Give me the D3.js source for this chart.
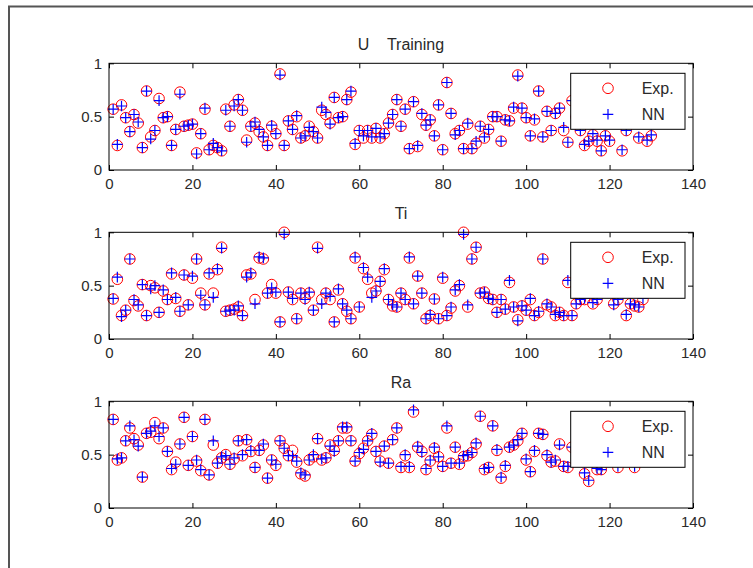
<!DOCTYPE html>
<html lang="en">
<head>
	<meta charset="UTF-8">
	<title>U Ti Ra training</title>
	<style>
		* {
			margin: 0;
			padding: 0;
		}
		body {
			background: #fff;
		}
		.svg {
			display: block;
			font-family: "Liberation Sans", Arial, sans-serif;
		}
		.tick text {
			font-size: 15px;
			fill: #2a2a2a;
		}
	</style>
</head>
<body>
	<script src="https://cdn.jsdelivr.net/npm/d3@7"></script>
	<script>
		// sample number runs 1..n
		var titles = ['U    Training', 'Ti', 'Ra'];
		var legendLabels = ['Exp.', 'NN'];
		var xTicks = [0, 20, 40, 60, 80, 100, 120, 140];
		var yTicks = [0, 0.5, 1];

		var uExp = [.57, .23, .61, .49, .36, .52, .44, .21, .74, .31,
			.37, .67, .49, .50, .23, .38, .73, .41, .42, .43,
			.16, .34, .57, .19, .23, .21, .18, .57, .41, .61,
			.66, .56, .28, .41, .44, .36, .31, .23, .41, .34,
			.90, .23, .46, .38, .50, .30, .32, .41, .36, .30,
			.56, .52, .44, .68, .49, .50, .66, .73, .24, .37,
			.30, .37, .30, .39, .30, .34, .44, .52, .66, .41,
			.57, .20, .64, .22, .52, .42, .47, .32, .61, .19,
			.82, .53, .34, .37, .20, .43, .20, .25, .41, .30,
			.38, .50, .50, .27, .47, .46, .58, .89, .58, .49,
			.32, .47, .74, .31, .55, .37, .53, .58, .37, .26,
			.65, .50, .37, .23, .27, .33, .27, .18, .32, .27,
			.45, .60, .18, .37, .55, .70, .30, .60, .27, .32];
		var uNN = [.57, .24, .60, .49, .36, .52, .45, .21, .74, .29,
			.37, .65, .49, .50, .23, .38, .71, .41, .42, .43,
			.15, .34, .58, .19, .25, .21, .18, .56, .41, .60,
			.66, .56, .26, .41, .45, .38, .31, .23, .42, .34,
			.89, .23, .46, .38, .51, .30, .32, .40, .36, .30,
			.59, .54, .43, .68, .49, .50, .66, .74, .25, .37,
			.32, .37, .31, .39, .31, .34, .44, .52, .66, .41,
			.57, .20, .64, .23, .53, .42, .47, .32, .61, .19,
			.82, .53, .33, .37, .20, .44, .20, .27, .41, .31,
			.38, .50, .50, .27, .47, .46, .59, .88, .58, .49,
			.32, .48, .74, .31, .55, .37, .53, .58, .40, .26,
			.65, .50, .37, .24, .27, .34, .28, .18, .32, .28,
			.45, .60, .19, .37, .55, .70, .31, .60, .28, .33];

		var tiExp = [.375, .56, .22, .27, .75, .36, .31, .51, .22, .50,
			.48, .25, .45, .37, .61, .38, .26, .60, .32, .57,
			.75, .43, .32, .61, .43, .65, .86, .26, .27, .28,
			.30, .22, .60, .61, .37, .76, .75, .43, .51, .43,
			.16, 1.0, .44, .37, .19, .43, .38, .43, .27, .86,
			.37, .43, .37, .16, .46, .33, .26, .19, .76, .30,
			.66, .56, .43, .45, .54, .65, .37, .31, .30, .43,
			.37, .76, .33, .59, .43, .19, .22, .375, .19, .57,
			.22, .29, .45, .50, 1.0, .30, .75, .86, .43, .44,
			.38, .37, .25, .37, .28, .53, .30, .18, .31, .27,
			.37, .22, .25, .75, .32, .30, .22, .25, .22, .53,
			.22, .33, .37, .37, .55, .33, .37, .60, .50, .70,
			.33, .37, .45, .22, .33, .31, .30, .37];
		var tiNN = [.38, .58, .21, .27, .75, .37, .32, .51, .22, .47,
			.50, .25, .46, .37, .62, .39, .26, .60, .32, .59,
			.75, .41, .32, .62, .39, .66, .85, .26, .27, .27,
			.31, .22, .58, .62, .33, .77, .76, .43, .48, .44,
			.16, .98, .44, .38, .19, .43, .37, .44, .27, .85,
			.33, .43, .40, .16, .47, .33, .27, .19, .77, .30,
			.67, .58, .39, .45, .54, .66, .37, .32, .30, .43,
			.37, .77, .33, .59, .43, .19, .23, .375, .19, .58,
			.22, .30, .46, .51, .98, .32, .75, .86, .43, .44,
			.38, .37, .25, .37, .28, .55, .30, .17, .31, .27,
			.38, .22, .26, .75, .33, .30, .23, .25, .22, .55,
			.22, .33, .37, .38, .55, .34, .37, .60, .50, .70,
			.32, .37, .45, .23, .33, .32, .30, .38];

		var raExp = [.83, .45, .47, .63, .75, .65, .59, .29, .70, .71,
			.80, .65, .75, .53, .36, .43, .60, .85, .40, .67,
			.44, .35, .83, .31, .59, .42, .47, .50, .41, .46,
			.63, .49, .64, .53, .38, .54, .59, .28, .45, .40,
			.63, .56, .49, .54, .43, .32, .30, .45, .48, .65,
			.45, .47, .59, .54, .63, .75, .75, .63, .44, .51,
			.56, .63, .69, .53, .44, .58, .42, .64, .75, .38,
			.49, .38, .90, .57, .53, .36, .44, .56, .48, .39,
			.75, .42, .57, .41, .48, .49, .52, .60, .86, .36,
			.38, .77, .54, .28, .39, .57, .59, .63, .70, .45,
			.34, .53, .70, .69, .49, .43, .44, .60, .39, .38,
			.57, .55, .62, .32, .25, .50, .36, .36, .65, .48,
			.55, .38, .60, .45, .52, .38];
		var raNN = [.83, .46, .47, .63, .77, .64, .58, .29, .70, .72,
			.77, .67, .75, .53, .37, .41, .60, .85, .40, .67,
			.45, .36, .83, .31, .63, .42, .48, .49, .41, .47,
			.63, .50, .64, .54, .38, .54, .60, .28, .45, .41,
			.63, .56, .49, .49, .44, .33, .31, .45, .50, .65,
			.46, .47, .58, .53, .63, .76, .76, .63, .44, .52,
			.55, .63, .70, .53, .43, .58, .42, .64, .75, .39,
			.50, .39, .92, .58, .52, .37, .45, .57, .48, .39,
			.77, .42, .57, .42, .49, .50, .52, .61, .86, .37,
			.38, .77, .55, .29, .40, .57, .59, .64, .70, .46,
			.34, .54, .70, .69, .50, .43, .45, .59, .39, .39,
			.57, .55, .62, .33, .26, .50, .37, .36, .65, .48,
			.55, .39, .60, .45, .52, .39];

		var expSeries = [uExp, tiExp, raExp];
		var nnSeries = [uNN, tiNN, raNN];

		var contentWidth = 753, contentHeight = 568;
		var left = 109, right = 693;
		var tops = [63.3, 232.3, 401.3];
		var height = 106.7;
		var width = right - left;

		var svg = d3.select('body').append('svg')
			.attr('width', contentWidth).attr('height', contentHeight).classed('svg', true);

		// figure frame, runs off the right and bottom of the picture
		svg.append('rect')
			.attr('x', 9).attr('y', 6.5)
			.attr('width', 800).attr('height', 700)
			.style('fill', 'none').style('stroke', '#555').style('stroke-width', 2);

		var xScale = d3.scaleLinear().domain([0, 140]).range([0, width]);
		var yScale = d3.scaleLinear().domain([0, 1]).range([height, 0]);

		var plus = 'M-5.3,0H5.3M0,-5.3V5.3';

		titles.forEach(function (title, k) {
			var box = svg.append('g').attr('transform', 'translate(' + left + ',' + tops[k] + ')');

			box.append('rect')
				.attr('width', width).attr('height', height)
				.style('fill', '#fff');

			// Exp. circles
			box.selectAll('circle.exp')
				.data(expSeries[k])
				.enter()
				.append('circle')
				.classed('exp', true)
				.attr('cx', function (d, i) { return xScale(i + 1); })
				.attr('cy', function (d) { return yScale(d); })
				.attr('r', 5.3)
				.style('fill', 'none')
				.style('stroke', '#f00')
				.style('stroke-width', 1);

			// NN plus signs
			box.selectAll('path.nn')
				.data(nnSeries[k])
				.enter()
				.append('path')
				.classed('nn', true)
				.attr('transform', function (d, i) {
					return 'translate(' + xScale(i + 1) + ',' + yScale(d) + ')';
				})
				.attr('d', plus)
				.style('fill', 'none')
				.style('stroke', '#00f')
				.style('stroke-width', 1.2);

			// x轴 (ticks point inward)
			box.append('g')
				.attr('transform', 'translate(0,' + height + ')')
				.call(d3.axisBottom(xScale).tickValues(xTicks).tickSize(-5).tickPadding(8))
				.call(function (g) { g.select('.domain').remove(); });
			box.append('g')
				.call(d3.axisTop(xScale).tickValues(xTicks).tickSize(-5).tickFormat(''))
				.call(function (g) { g.select('.domain').remove(); });

			// y轴
			box.append('g')
				.call(d3.axisLeft(yScale).tickValues(yTicks).tickSize(-5).tickPadding(7)
					.tickFormat(function (d) { return String(d); }))
				.call(function (g) { g.select('.domain').remove(); });
			box.append('g')
				.attr('transform', 'translate(' + width + ',0)')
				.call(d3.axisRight(yScale).tickValues(yTicks).tickSize(-5).tickFormat(''))
				.call(function (g) { g.select('.domain').remove(); });

			box.append('rect')
				.attr('width', width).attr('height', height)
				.style('fill', 'none').style('stroke', '#000').style('stroke-width', 1);

			box.append('text')
				.attr('x', width / 2).attr('y', -13)
				.attr('text-anchor', 'middle')
				.style('white-space', 'pre')
				.style('font-size', '16px')
				.style('fill', '#2a2a2a')
				.text(title);

			// 图例
			var lw = 114.3, lh = 56;
			var legend = box.append('g').attr('transform', 'translate(' + (width - 8 - lw) + ',10)');
			legend.append('rect')
				.attr('width', lw).attr('height', lh)
				.style('fill', '#fff').style('stroke', '#000').style('stroke-width', 1);
			legend.append('circle')
				.attr('cx', 37.3).attr('cy', 15)
				.attr('r', 5.3)
				.style('fill', 'none').style('stroke', '#f00');
			legend.append('path')
				.attr('transform', 'translate(37.3,41)')
				.attr('d', plus)
				.style('stroke', '#00f').style('stroke-width', 1.2);
			legend.selectAll('text')
				.data(legendLabels)
				.enter()
				.append('text')
				.attr('x', 71)
				.attr('y', function (d, i) { return 15 + i * 26; })
				.attr('dy', '0.36em')
				.style('font-size', '16px')
				.style('fill', '#2a2a2a')
				.text(function (d) { return d; });
		});
	</script>
</body>
</html>
